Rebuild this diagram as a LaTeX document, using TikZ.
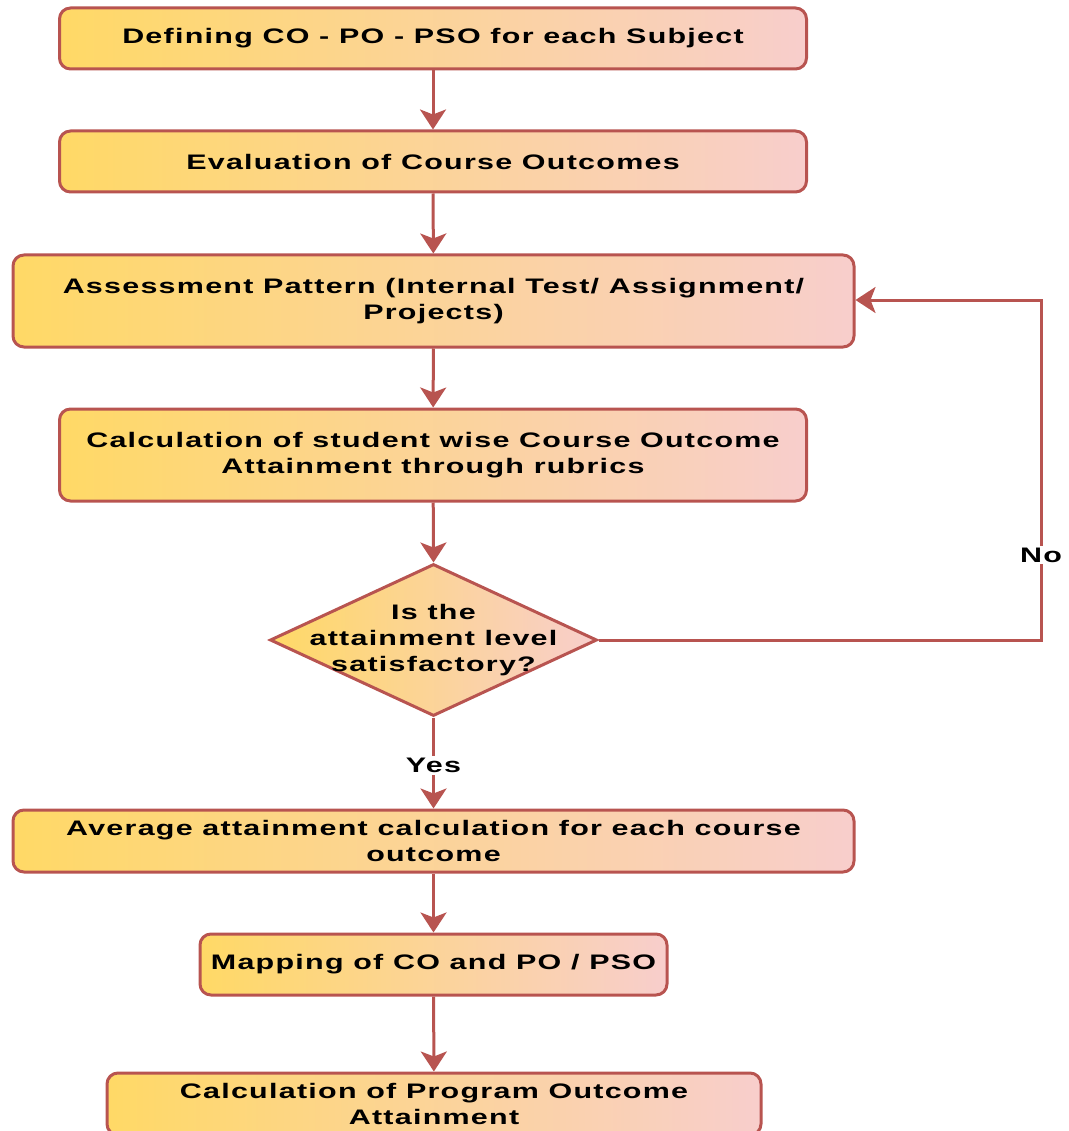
\documentclass[tikz,border=0pt]{standalone}
\usepackage{fontspec}
\setmainfont{Liberation Sans}[FakeStretch=1.45,LetterSpace=6]
\usetikzlibrary{shapes.geometric,arrows.meta}
\definecolor{fillA}{HTML}{FFD966}
\definecolor{fillB}{HTML}{F8CECC}
\definecolor{edge}{HTML}{B85450}
\begin{document}
\begin{tikzpicture}[x=1pt,y=-1pt,
  box/.style={draw=edge,line width=3pt,rounded corners=11pt,left color=fillA,right color=fillB,
    inner sep=0pt,align=center,font=\fontsize{21}{26}\selectfont\bfseries},
  txt/.style={align=center,font=\fontsize{21}{26}\selectfont\bfseries,inner sep=0pt},
  conn/.style={draw=edge,line width=3pt,-{Stealth[width=26pt,length=20pt,inset=5pt]}},
  lbl/.style={fill=white,font=\fontsize{21}{26}\selectfont\bfseries,inner sep=2pt}]
\useasboundingbox (0,0) rectangle (1068,1131);
\node[box,minimum width=747pt,minimum height=61pt] (b1) at (433,38.5) {Defining CO - PO - PSO for each Subject};
\node[box,minimum width=747pt,minimum height=61pt] (b2) at (433,161.5) {Evaluation of Course Outcomes};
\node[box,minimum width=841pt,minimum height=92pt] (b3) at (433.5,301) {Assessment Pattern (Internal Test/ Assignment/\\Projects)};
\node[box,minimum width=747pt,minimum height=92pt] (b4) at (433,455) {Calculation of student wise Course Outcome\\Attainment through rubrics};
\node[diamond,draw=edge,line width=3pt,left color=fillA,right color=fillB,inner sep=0pt,
  minimum width=327pt,minimum height=152pt] (d) at (433.5,640) {};
\node[txt] (dt) at (433.5,640) {Is the\\attainment level\\satisfactory?};
\node[box,minimum width=841pt,minimum height=62pt] (b6) at (433.5,841) {Average attainment calculation for each course\\outcome};
\node[box,minimum width=467pt,minimum height=61pt] (b7) at (433.5,964.5) {Mapping of CO and PO / PSO};
\node[box,minimum width=654pt,minimum height=62pt] (b8) at (434,1104) {Calculation of Program Outcome\\Attainment};
\coordinate (c1) at (1041,640);
\coordinate (c2) at (1041,300);
\draw[conn] (b1) -- (b2);
\draw[conn] (b2) -- (b3);
\draw[conn] (b3) -- (b4);
\draw[conn] (b4) -- (d.north);
\draw[conn] (d.south) -- node[lbl,pos=0.53] {Yes} (b6.north);
\draw[conn] (b6) -- (b7);
\draw[conn] (b7) -- (b8);
\draw[conn] (d.east) -- (c1) -- node[lbl,pos=0.25] {No} (c2) -- (b3.east |- c2);
\end{tikzpicture}
\end{document}
